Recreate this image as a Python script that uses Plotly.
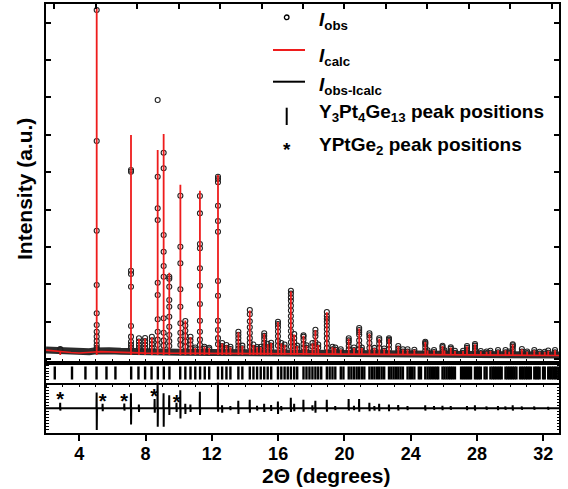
import plotly.graph_objects as go

# ---------------- data ----------------
# background level under the pattern (counts)
bg_x = [1.99, 2.5, 3.0, 3.5, 4.0, 4.6, 4.9, 5.3, 5.8, 6.5, 7.0, 8.0, 10.0, 12.0,
        14.0, 17.0, 20.0, 23.0, 26.0, 29.0, 32.95]
bg_obs = [243, 225, 205, 195, 190, 195, 215, 240, 225, 210, 200, 195, 185, 178,
          170, 160, 140, 125, 118, 112, 108]
bg_calc = [240, 215, 190, 175, 165, 170, 190, 200, 190, 175, 165, 160, 158, 152,
           150, 140, 125, 112, 105, 100, 98]

# Bragg peaks: position (2theta), calculated top, observed points on the peak
peak_pos = [2.85, 5.05, 7.12, 7.60, 7.97, 8.38, 8.73, 9.09, 9.43, 10.10, 10.40, 10.71,
            11.00, 11.28, 11.55, 11.84, 12.37, 12.62, 12.88, 13.12, 13.60, 13.84, 14.29,
            14.51, 14.73, 14.95, 15.16, 15.37, 15.58, 15.99, 16.19, 16.39, 16.77, 16.97,
            17.15, 17.53, 17.71, 18.07, 18.25, 18.42, 18.94, 19.28, 19.45, 19.78, 20.26,
            20.58, 20.89, 21.05, 21.51, 21.81, 22.10, 22.40, 22.69, 23.25, 23.53, 23.81,
            24.22, 24.88, 25.02, 25.41, 25.92, 26.04, 26.42, 26.67, 27.16, 27.40, 27.88,
            28.23, 28.58, 28.81, 29.27, 29.72, 29.94, 30.16, 30.71, 31.03, 31.46, 31.78,
            32.09, 32.30, 32.71]
peak_calc = [215, 9388, 5993, 540, 550, 580, 5591, 6019, 2310, 4663, 1030, 590,
             300, 4503, 330, 300, 4923, 420, 370, 320, 720, 350, 1300,
             380, 320, 320, 680, 400, 430, 990, 420, 380, 1810, 660,
             350, 625, 360, 420, 775, 380, 1250, 320, 300, 255, 545,
             300, 820, 300, 680, 300, 545, 280, 545, 345, 260, 255,
             250, 455, 230, 240, 350, 230, 310, 220, 220, 345, 395,
             210, 200, 220, 238, 238, 200, 390, 265, 200, 238, 190,
             190, 225, 238]
peak_obs = [
    [270, 250],
    [9335, 5832, 3433, 1981, 1225, 912, 733, 600, 484, 377, 300, 260],
    [5056, 5011, 2364, 2275, 1936, 885, 600, 465, 380, 300],
    [556, 470, 380, 300], [564, 480, 390, 300], [599, 500, 400, 300],
    [6928, 4877, 4032, 3717, 2043, 1714, 1064, 733, 520, 380],
    [5519, 5102, 3318, 2872, 2490, 2203, 1091, 706, 500, 360],
    [2203, 2150, 1936, 1580, 1401, 1134, 866, 644, 480, 350],
    [4369, 3006, 2562, 1866, 1401, 957, 706, 520, 380],
    [1019, 900, 760, 620, 470, 330], [599, 500, 390, 290],
    [310, 260],
    [4361, 3898, 3078, 2963, 2428, 1963, 1473, 1027, 733, 520, 380],
    [332, 280], [305, 260],
    [4877, 4816, 4728, 4102, 3693, 3407, 2088, 1695, 1027, 778, 560, 400],
    [430, 350, 280], [377, 300], [330, 270],
    [733, 650, 560, 460, 360, 280], [360, 290],
    [1313, 1200, 1010, 850, 700, 560, 440, 330],
    [390, 300], [324, 270], [330, 270],
    [690, 620, 540, 440, 340], [410, 320], [439, 360, 290],
    [1000, 940, 850, 740, 610, 480, 360], [430, 340], [390, 310],
    [1829, 1750, 1650, 1560, 1430, 1300, 1150, 1020, 900, 750, 600, 450, 330],
    [671, 560, 450, 350],
    [360, 290], [636, 600, 520, 400, 310], [370, 300], [430, 340],
    [786, 700, 610, 450, 340], [390, 310],
    [1259, 1150, 1080, 1000, 900, 800, 680, 560, 420, 300],
    [330, 260], [310, 250], [262, 210], [556, 500, 450, 350, 260],
    [310, 240], [832, 780, 720, 650, 500, 380, 260], [310, 240],
    [690, 640, 560, 430, 300], [300, 230], [556, 510, 420, 300], [285, 220],
    [556, 520, 480, 380, 270],
    [350, 280, 210], [265, 200], [262, 200],
    [250, 190], [465, 430, 400, 320, 230], [235, 180], [243, 190],
    [358, 320, 260, 190], [235, 180], [316, 280, 220, 170], [225, 170], [225, 170],
    [350, 300, 240, 180], [404, 360, 300, 220],
    [215, 165], [205, 160], [225, 170], [243, 180], [243, 180], [205, 160],
    [396, 370, 330, 260, 190], [270, 200], [205, 160], [243, 180], [195, 150],
    [195, 150], [230, 170], [243, 180]]

# Y3Pt4Ge13 reflection positions (2theta)
refl_pos = [2.52, 3.56, 4.37, 5.04, 5.64, 6.18, 7.13, 7.57, 7.97, 8.36,
            8.74, 9.10, 9.44, 10.09, 10.40, 10.71, 11.00, 11.29, 11.57, 11.84,
            12.37, 12.62, 12.88, 13.12, 13.60, 13.84, 14.29, 14.51, 14.73, 14.95,
            15.16, 15.37, 15.58, 15.99, 16.19, 16.39, 16.58, 16.77, 16.97, 17.15,
            17.53, 17.71, 17.89, 18.07, 18.25, 18.42, 18.60, 18.94, 19.11, 19.28,
            19.45, 19.78, 19.94, 20.26, 20.42, 20.58, 20.74, 20.89, 21.05, 21.20,
            21.51, 21.66, 21.81, 21.96, 22.10, 22.25, 22.40, 22.69, 22.83, 22.97,
            23.11, 23.25, 23.39, 23.53, 23.81, 23.95, 24.08, 24.22, 24.49, 24.62,
            24.88, 25.02, 25.15, 25.28, 25.41, 25.54, 25.66, 25.92, 26.04, 26.17,
            26.30, 26.42, 26.54, 26.67, 27.04, 27.16, 27.28, 27.40, 27.52, 27.64,
            27.88, 28.00, 28.11, 28.23, 28.46, 28.58, 28.81, 28.93, 29.04, 29.15,
            29.27, 29.38, 29.49, 29.72, 29.83, 29.94, 30.05, 30.16, 30.27, 30.38,
            30.60, 30.71, 30.82, 30.93, 31.03, 31.14, 31.25, 31.46, 31.57, 31.67,
            31.78, 31.99, 32.09, 32.30, 32.40, 32.51, 32.61, 32.71, 32.81, 32.92]

# YPtGe2 peak markers (2theta, height in difference panel)
star_pos = [2.84, 5.41, 6.71, 8.52, 9.87]
star_y = [203, 134, 134, 273, 115]

# difference curve spikes: position, upper and lower excursion
diff_pos = [2.85, 5.05, 5.41, 6.72, 7.12, 7.60, 8.55, 8.73, 9.09, 9.43, 9.87, 10.10,
            10.40, 10.71, 11.28, 12.37, 12.62, 13.12, 13.60, 14.29, 14.73, 15.16, 15.58,
            15.99, 16.19, 16.77, 16.97, 17.53, 18.07, 18.25, 18.94, 19.45, 20.26, 20.58,
            20.89, 21.51, 21.81, 22.10, 22.69, 23.25, 23.81, 24.88, 25.41, 25.92, 26.42,
            27.40, 27.88, 28.58, 29.27, 29.72, 30.16, 30.71, 31.46, 32.30]
diff_up = [150, 420, 120, 130, 400, 100, 250, 1400, 400, 350, 150, 480,
           120, 100, 440, 800, 80, 60, 200, 230, 70, 120, 90,
           180, 60, 280, 120, 230, 80, 200, 230, 60, 250, 70,
           250, 150, 60, 120, 100, 90, 60, 80, 60, 70, 60,
           60, 80, 50, 60, 50, 80, 50, 50, 40]
diff_dn = [-60, -580, -80, -60, -430, -100, -120, -490, -490, -180, -100, -270,
           -150, -100, -180, -90, -120, -50, -150, -120, -60, -100, -70,
           -150, -60, -100, -80, -90, -60, -120, -90, -50, -60, -50,
           -90, -80, -60, -80, -80, -60, -50, -60, -40, -50, -40,
           -50, -60, -40, -50, -40, -60, -40, -40, -40]

X_RANGE = [1.99, 32.95]
MAIN_RANGE = [-112, 9495]
DIFF_RANGE = [-660, 685]
x_ticks = [4, 8, 12, 16, 20, 24, 28, 32]

# ---------------- figure ----------------
W, H = 568, 489
ML, MR, MT, MB = 46, 9, 4, 56
PL, PR, PT, PB = ML, W - MR, MT, H - MB
FONT = "Liberation Sans, Arial, sans-serif"
RED = "#ee1c1c"
OBS = "#222222"


def fx(px):
    return (px - PL) / (PR - PL)


def fy(py):
    return (PB - py) / (PB - PT)


fig = go.Figure()

# observed: background band
fig.add_trace(go.Scatter(x=bg_x, y=bg_obs, mode="lines", xaxis="x2", yaxis="y",
                         line=dict(color="#2c2c2c", width=7), hoverinfo="skip",
                         showlegend=False))
# observed points on the peaks
ox, oy = [], []
for p, obs in zip(peak_pos, peak_obs):
    for v in obs:
        ox.append(p)
        oy.append(v)
fig.add_trace(go.Scatter(x=ox, y=oy, mode="markers", xaxis="x2", yaxis="y",
                         marker=dict(symbol="circle-open", size=5, color=OBS,
                                     line=dict(width=1.1, color=OBS)),
                         showlegend=False))
# calculated profile: baseline + peaks
fig.add_trace(go.Scatter(x=bg_x, y=bg_calc, mode="lines", xaxis="x2", yaxis="y",
                         line=dict(color=RED, width=1.6), showlegend=False))
cx, cy = [], []
for p, top in zip(peak_pos, peak_calc):
    cx += [p, p, None]
    cy += [110, top, None]
fig.add_trace(go.Scatter(x=cx, y=cy, mode="lines", xaxis="x2", yaxis="y",
                         line=dict(color=RED, width=1.8), showlegend=False))

# reflection tick marks
tx, ty = [], []
for p in refl_pos:
    tx += [p, p, None]
    ty += [0.17, 0.83, None]
fig.add_trace(go.Scatter(x=tx, y=ty, mode="lines", xaxis="x3", yaxis="y2",
                         line=dict(color="black", width=2.4), showlegend=False))

# difference curve
dx, dy = [X_RANGE[0]], [0]
for p, u, d in zip(diff_pos, diff_up, diff_dn):
    dx += [p - 0.015, p - 0.004, p + 0.004, p + 0.015]
    dy += [0, u, d, 0]
dx.append(X_RANGE[1])
dy.append(0)
fig.add_trace(go.Scatter(x=dx, y=dy, mode="lines", xaxis="x", yaxis="y3",
                         line=dict(color="black", width=2), showlegend=False))

# YPtGe2 stars
fig.add_trace(go.Scatter(x=star_pos, y=star_y, mode="text", text=["*"] * len(star_pos),
                         textposition="middle center", xaxis="x", yaxis="y3",
                         textfont=dict(family=FONT, size=20, color="black", weight="bold"),
                         showlegend=False, cliponaxis=False))

d_diff = [0, fy(382.7)]
d_tick = [fy(382.7), fy(363.3)]
d_main = [fy(363.3), 1]

axis_common = dict(showgrid=False, zeroline=False, showline=True, linecolor="black")

fig.update_layout(
    width=W, height=H, margin=dict(l=ML, r=MR, t=MT, b=MB),
    paper_bgcolor="white", plot_bgcolor="white", showlegend=False,
    xaxis=dict(**axis_common, anchor="y3", range=X_RANGE, linewidth=2,
               tickvals=x_ticks, ticks="outside", ticklen=6, tickwidth=2,
               tickcolor="black", ticklabelstandoff=-3,
               tickfont=dict(family=FONT, size=18, color="black", weight="bold")),
    xaxis2=dict(**axis_common, anchor="y", matches="x", range=X_RANGE, side="top",
                linewidth=2, mirror=True, ticks="inside", tick0=0, dtick=2.5,
                ticklen=5, tickwidth=1.5, tickcolor="black", showticklabels=False),
    xaxis3=dict(**axis_common, anchor="y2", matches="x", range=X_RANGE, linewidth=1.5,
                mirror="ticks", ticks="outside", tick0=0, dtick=1, ticklen=3,
                tickwidth=1.2, tickcolor="black", showticklabels=False),
    yaxis=dict(**axis_common, domain=d_main, range=MAIN_RANGE, linewidth=2,
               mirror="ticks", ticks="inside", tick0=0, dtick=1000, ticklen=5,
               tickwidth=1.5, tickcolor="black", showticklabels=False),
    yaxis2=dict(**axis_common, domain=d_tick, range=[0, 1], linewidth=2,
                mirror="ticks", ticks="inside", tick0=0, dtick=0.15, ticklen=2.5,
                tickwidth=1, tickcolor="black", showticklabels=False),
    yaxis3=dict(**axis_common, domain=d_diff, range=DIFF_RANGE, linewidth=2,
                mirror="ticks", ticks="inside", tick0=0, dtick=80, ticklen=2.5,
                tickwidth=1, tickcolor="black", showticklabels=False),
)

# axis titles
fig.add_annotation(x=fx(325.5), y=fy(475), xref="paper", yref="paper", showarrow=False,
                   text="<b>2\u0398 (degrees)</b>", xanchor="center", yanchor="middle",
                   font=dict(family=FONT, size=21, color="black"), borderpad=0)
fig.add_annotation(x=fx(24), y=fy(189), xref="paper", yref="paper", showarrow=False,
                   text="<b>Intensity (a.u.)</b>", textangle=-90, xanchor="center",
                   yanchor="middle", font=dict(family=FONT, size=21, color="black"))

# legend (drawn by hand to match the original layout)
LF = dict(family=FONT, size=19, color="black")
TX = fx(317.7)
leg_texts = [
    ("<b><i>I</i><sub>obs</sub></b>", 8.0),
    ("<b><i>I</i><sub>calc</sub></b>", 43.7),
    ("<b><i>I</i><sub>obs-Icalc</sub></b>", 72.7),
    ("<b>Y<sub>3</sub>Pt<sub>4</sub>Ge<sub>13</sub> peak positions</b>", 99.7),
    ("<b>YPtGe<sub>2</sub> peak positions</b>", 133.0),
]
for t, ytop in leg_texts:
    fig.add_annotation(x=TX, y=fy(ytop), xref="paper", yref="paper", showarrow=False,
                       text=t, xanchor="left", yanchor="top", font=LF, borderpad=0)

fig.add_shape(type="circle", xref="paper", yref="paper", x0=fx(284.4), x1=fx(289.0),
              y0=fy(19.6), y1=fy(15.0), line=dict(color="black", width=1.3))
fig.add_shape(type="line", xref="paper", yref="paper", x0=fx(273), x1=fx(305),
              y0=fy(50), y1=fy(50), line=dict(color=RED, width=2))
fig.add_shape(type="line", xref="paper", yref="paper", x0=fx(273), x1=fx(305),
              y0=fy(81.7), y1=fy(81.7), line=dict(color="black", width=2))
fig.add_shape(type="line", xref="paper", yref="paper", x0=fx(286.7), x1=fx(286.7),
              y0=fy(107.7), y1=fy(125), line=dict(color="black", width=2))
fig.add_annotation(x=fx(286.7), y=fy(149), xref="paper", yref="paper", showarrow=False,
                   text="<b>*</b>", xanchor="center", yanchor="middle", font=LF)

fig.write_html("out.html")
